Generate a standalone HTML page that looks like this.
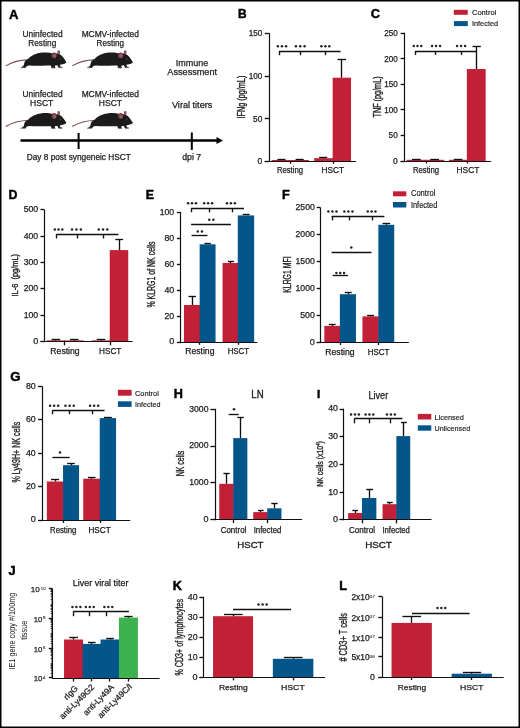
<!DOCTYPE html>
<html><head><meta charset="utf-8"><style>
html,body{margin:0;padding:0;background:#fff;}
svg{display:block;will-change:transform;}
text{font-family:"Liberation Sans",sans-serif;fill:#1c1c1c;stroke:#1c1c1c;stroke-width:0.25px;}
</style></head><body>
<svg width="520" height="728" viewBox="0 0 520 728">
<rect x="0.75" y="0.75" width="518.5" height="726.5" fill="#fff" stroke="#000" stroke-width="1.5"/>
<text x="9.00" y="18.50" font-size="13.08" font-weight="bold" style="fill:#000;stroke:#000;stroke-width:0.45px">A</text>
<g transform="translate(0.00,0.00)"><path d="M28,59.9 C21,59.9 13,61.6 5.8,65.9" stroke="#7a4646" stroke-width="1.1" fill="none"/><path d="M27.4,59.6 C31,55.5 36,53.1 42,52.6 C46.5,52.3 50.5,52.9 53.5,53.6 L57,53.6 C59,53.9 60.5,54.6 61.8,55.8 C63.5,57.5 65,59.8 66.4,62.2 C65.6,63.3 64.6,63.7 63.5,64 C62.2,64.3 60.8,64.6 59.8,64.8 L60.4,66.6 L62.4,67.2 L62.2,67.9 L58.6,67.8 L57.4,65.3 L55.2,65.5 L54.8,66.8 L55.6,67.6 L54.8,68.2 L51.4,68 L51,65.6 C45,65.8 36,65.8 30,65.4 C28.5,65.3 27.3,65.6 26.6,66.2 L25.4,67.9 L20.4,67.7 L22.6,66.6 C23.6,65.8 24.1,64.8 24.2,63.6 C24.3,62 25.4,60.6 27.4,59.6 Z" fill="#1b1b1b"/><ellipse cx="54.1" cy="55.4" rx="2.6" ry="2.9" fill="#6e3a3f"/><ellipse cx="54.5" cy="55.8" rx="1.7" ry="2.0" fill="#955a60"/><ellipse cx="58.7" cy="52.3" rx="1.3" ry="2.0" fill="#6e3a3f"/><ellipse cx="58.8" cy="52.5" rx="0.7" ry="1.4" fill="#9a5e64"/><circle cx="60.3" cy="58.9" r="0.9" fill="#3a3a3a"/><path d="M20.6,67.7 L25,67.7 M51.6,67.9 L54.6,67.9 M59.2,67.6 L62.2,67.6" stroke="#9c6c6c" stroke-width="0.7"/></g>
<g transform="translate(66.50,0.00)"><path d="M28,59.9 C21,59.9 13,61.6 5.8,65.9" stroke="#7a4646" stroke-width="1.1" fill="none"/><path d="M27.4,59.6 C31,55.5 36,53.1 42,52.6 C46.5,52.3 50.5,52.9 53.5,53.6 L57,53.6 C59,53.9 60.5,54.6 61.8,55.8 C63.5,57.5 65,59.8 66.4,62.2 C65.6,63.3 64.6,63.7 63.5,64 C62.2,64.3 60.8,64.6 59.8,64.8 L60.4,66.6 L62.4,67.2 L62.2,67.9 L58.6,67.8 L57.4,65.3 L55.2,65.5 L54.8,66.8 L55.6,67.6 L54.8,68.2 L51.4,68 L51,65.6 C45,65.8 36,65.8 30,65.4 C28.5,65.3 27.3,65.6 26.6,66.2 L25.4,67.9 L20.4,67.7 L22.6,66.6 C23.6,65.8 24.1,64.8 24.2,63.6 C24.3,62 25.4,60.6 27.4,59.6 Z" fill="#1b1b1b"/><ellipse cx="54.1" cy="55.4" rx="2.6" ry="2.9" fill="#6e3a3f"/><ellipse cx="54.5" cy="55.8" rx="1.7" ry="2.0" fill="#955a60"/><ellipse cx="58.7" cy="52.3" rx="1.3" ry="2.0" fill="#6e3a3f"/><ellipse cx="58.8" cy="52.5" rx="0.7" ry="1.4" fill="#9a5e64"/><circle cx="60.3" cy="58.9" r="0.9" fill="#3a3a3a"/><path d="M20.6,67.7 L25,67.7 M51.6,67.9 L54.6,67.9 M59.2,67.6 L62.2,67.6" stroke="#9c6c6c" stroke-width="0.7"/></g>
<g transform="translate(0.00,60.60)"><path d="M28,59.9 C21,59.9 13,61.6 5.8,65.9" stroke="#7a4646" stroke-width="1.1" fill="none"/><path d="M27.4,59.6 C31,55.5 36,53.1 42,52.6 C46.5,52.3 50.5,52.9 53.5,53.6 L57,53.6 C59,53.9 60.5,54.6 61.8,55.8 C63.5,57.5 65,59.8 66.4,62.2 C65.6,63.3 64.6,63.7 63.5,64 C62.2,64.3 60.8,64.6 59.8,64.8 L60.4,66.6 L62.4,67.2 L62.2,67.9 L58.6,67.8 L57.4,65.3 L55.2,65.5 L54.8,66.8 L55.6,67.6 L54.8,68.2 L51.4,68 L51,65.6 C45,65.8 36,65.8 30,65.4 C28.5,65.3 27.3,65.6 26.6,66.2 L25.4,67.9 L20.4,67.7 L22.6,66.6 C23.6,65.8 24.1,64.8 24.2,63.6 C24.3,62 25.4,60.6 27.4,59.6 Z" fill="#1b1b1b"/><ellipse cx="54.1" cy="55.4" rx="2.6" ry="2.9" fill="#6e3a3f"/><ellipse cx="54.5" cy="55.8" rx="1.7" ry="2.0" fill="#955a60"/><ellipse cx="58.7" cy="52.3" rx="1.3" ry="2.0" fill="#6e3a3f"/><ellipse cx="58.8" cy="52.5" rx="0.7" ry="1.4" fill="#9a5e64"/><circle cx="60.3" cy="58.9" r="0.9" fill="#3a3a3a"/><path d="M20.6,67.7 L25,67.7 M51.6,67.9 L54.6,67.9 M59.2,67.6 L62.2,67.6" stroke="#9c6c6c" stroke-width="0.7"/></g>
<g transform="translate(66.50,60.60)"><path d="M28,59.9 C21,59.9 13,61.6 5.8,65.9" stroke="#7a4646" stroke-width="1.1" fill="none"/><path d="M27.4,59.6 C31,55.5 36,53.1 42,52.6 C46.5,52.3 50.5,52.9 53.5,53.6 L57,53.6 C59,53.9 60.5,54.6 61.8,55.8 C63.5,57.5 65,59.8 66.4,62.2 C65.6,63.3 64.6,63.7 63.5,64 C62.2,64.3 60.8,64.6 59.8,64.8 L60.4,66.6 L62.4,67.2 L62.2,67.9 L58.6,67.8 L57.4,65.3 L55.2,65.5 L54.8,66.8 L55.6,67.6 L54.8,68.2 L51.4,68 L51,65.6 C45,65.8 36,65.8 30,65.4 C28.5,65.3 27.3,65.6 26.6,66.2 L25.4,67.9 L20.4,67.7 L22.6,66.6 C23.6,65.8 24.1,64.8 24.2,63.6 C24.3,62 25.4,60.6 27.4,59.6 Z" fill="#1b1b1b"/><ellipse cx="54.1" cy="55.4" rx="2.6" ry="2.9" fill="#6e3a3f"/><ellipse cx="54.5" cy="55.8" rx="1.7" ry="2.0" fill="#955a60"/><ellipse cx="58.7" cy="52.3" rx="1.3" ry="2.0" fill="#6e3a3f"/><ellipse cx="58.8" cy="52.5" rx="0.7" ry="1.4" fill="#9a5e64"/><circle cx="60.3" cy="58.9" r="0.9" fill="#3a3a3a"/><path d="M20.6,67.7 L25,67.7 M51.6,67.9 L54.6,67.9 M59.2,67.6 L62.2,67.6" stroke="#9c6c6c" stroke-width="0.7"/></g>
<text x="22.55" y="36.80" font-size="9" textLength="40.00" lengthAdjust="spacingAndGlyphs">Uninfected</text>
<text x="28.35" y="46.30" font-size="9" textLength="27.90" lengthAdjust="spacingAndGlyphs">Resting</text>
<text x="81.65" y="36.80" font-size="9" textLength="57.20" lengthAdjust="spacingAndGlyphs">MCMV-infected</text>
<text x="96.55" y="46.30" font-size="9" textLength="27.60" lengthAdjust="spacingAndGlyphs">Resting</text>
<text x="22.55" y="97.00" font-size="9" textLength="40.00" lengthAdjust="spacingAndGlyphs">Uninfected</text>
<text x="30.05" y="106.10" font-size="9" textLength="23.30" lengthAdjust="spacingAndGlyphs">HSCT</text>
<text x="81.65" y="97.00" font-size="9" textLength="57.20" lengthAdjust="spacingAndGlyphs">MCMV-infected</text>
<text x="98.85" y="106.10" font-size="9" textLength="23.10" lengthAdjust="spacingAndGlyphs">HSCT</text>
<text x="175.75" y="65.90" font-size="9.6" textLength="32.40" lengthAdjust="spacingAndGlyphs">Immune</text>
<text x="167.35" y="74.80" font-size="9.6" textLength="49.70" lengthAdjust="spacingAndGlyphs">Assessment</text>
<text x="171.95" y="107.50" font-size="9.6" textLength="40.40" lengthAdjust="spacingAndGlyphs">Viral titers</text>
<line x1="20.50" y1="140.50" x2="218.00" y2="140.50" stroke="#000" stroke-width="2.5"/>
<path d="M216.5,136.9 L223,140.5 L216.5,144.1 Z" fill="#000"/>
<line x1="78.60" y1="133.00" x2="78.60" y2="149.00" stroke="#000" stroke-width="2.0"/>
<line x1="191.80" y1="132.50" x2="191.80" y2="149.90" stroke="#000" stroke-width="2.0"/>
<text x="26.65" y="160.00" font-size="8.6" textLength="104.30" lengthAdjust="spacingAndGlyphs">Day 8 post syngeneic HSCT</text>
<text x="182.15" y="159.60" font-size="8.6" textLength="19.10" lengthAdjust="spacingAndGlyphs">dpi 7</text>
<text x="237.90" y="17.90" font-size="11.92" font-weight="bold" style="fill:#000;stroke:#000;stroke-width:0.45px">B</text>
<line x1="269.50" y1="33.20" x2="269.50" y2="161.80" stroke="#111" stroke-width="1.2"/>
<line x1="264.70" y1="161.50" x2="269.30" y2="161.50" stroke="#111" stroke-width="1.35"/>
<text x="257.55" y="164.07" font-size="8.2" textLength="4.75" lengthAdjust="spacingAndGlyphs">0</text>
<line x1="264.70" y1="118.50" x2="269.30" y2="118.50" stroke="#111" stroke-width="1.35"/>
<text x="253.10" y="121.50" font-size="8.2" textLength="9.20" lengthAdjust="spacingAndGlyphs">50</text>
<line x1="264.70" y1="76.50" x2="269.30" y2="76.50" stroke="#111" stroke-width="1.35"/>
<text x="248.65" y="78.94" font-size="8.2" textLength="13.65" lengthAdjust="spacingAndGlyphs">100</text>
<line x1="264.70" y1="33.50" x2="269.30" y2="33.50" stroke="#111" stroke-width="1.35"/>
<text x="248.65" y="36.37" font-size="8.2" textLength="13.65" lengthAdjust="spacingAndGlyphs">150</text>
<text transform="translate(244.80,118.50) rotate(-90)" font-size="10.3" style="stroke-width:0.35px" textLength="42.80" lengthAdjust="spacingAndGlyphs">IFNg (pg/mL)</text>
<rect x="271.75" y="160.00" width="18.10" height="1.20" fill="#C22036"/>
<rect x="289.35" y="160.00" width="19.50" height="1.20" fill="#C22036"/>
<rect x="314.15" y="158.20" width="19.00" height="3.00" fill="#C22036"/>
<rect x="332.65" y="77.70" width="18.40" height="83.50" fill="#C22036"/>
<line x1="280.50" y1="160.00" x2="280.50" y2="159.00" stroke="#111" stroke-width="1.35"/>
<line x1="277.40" y1="159.50" x2="285.50" y2="159.50" stroke="#111" stroke-width="1.35"/>
<line x1="299.50" y1="160.00" x2="299.50" y2="159.00" stroke="#111" stroke-width="1.35"/>
<line x1="295.60" y1="159.50" x2="303.70" y2="159.50" stroke="#111" stroke-width="1.35"/>
<line x1="323.50" y1="158.20" x2="323.50" y2="157.40" stroke="#111" stroke-width="1.35"/>
<line x1="319.10" y1="157.50" x2="327.20" y2="157.50" stroke="#111" stroke-width="1.35"/>
<line x1="341.50" y1="77.70" x2="341.50" y2="59.60" stroke="#111" stroke-width="1.35"/>
<line x1="337.50" y1="59.50" x2="346.10" y2="59.50" stroke="#111" stroke-width="1.35"/>
<line x1="264.70" y1="161.50" x2="356.20" y2="161.50" stroke="#111" stroke-width="1.2"/>
<line x1="290.50" y1="161.20" x2="290.50" y2="163.80" stroke="#111" stroke-width="1.35"/>
<line x1="333.50" y1="161.20" x2="333.50" y2="163.80" stroke="#111" stroke-width="1.35"/>
<text x="276.95" y="172.60" font-size="8.2" textLength="26.10" lengthAdjust="spacingAndGlyphs">Resting</text>
<text x="321.55" y="172.60" font-size="8.2" textLength="22.50" lengthAdjust="spacingAndGlyphs">HSCT</text>
<line x1="279.00" y1="51.50" x2="340.60" y2="51.50" stroke="#111" stroke-width="1.35"/>
<line x1="279.50" y1="51.30" x2="279.50" y2="55.20" stroke="#111" stroke-width="1.35"/>
<line x1="300.50" y1="51.30" x2="300.50" y2="55.20" stroke="#111" stroke-width="1.35"/>
<line x1="325.50" y1="51.30" x2="325.50" y2="55.20" stroke="#111" stroke-width="1.35"/>
<circle cx="277.85" cy="46.30" r="1.25" fill="#222"/>
<circle cx="281.95" cy="46.30" r="1.25" fill="#222"/>
<circle cx="286.05" cy="46.30" r="1.25" fill="#222"/>
<circle cx="295.95" cy="46.30" r="1.25" fill="#222"/>
<circle cx="300.25" cy="46.30" r="1.25" fill="#222"/>
<circle cx="304.55" cy="46.30" r="1.25" fill="#222"/>
<circle cx="321.45" cy="46.30" r="1.25" fill="#222"/>
<circle cx="325.40" cy="46.30" r="1.25" fill="#222"/>
<circle cx="329.35" cy="46.30" r="1.25" fill="#222"/>
<text x="370.70" y="17.80" font-size="12.79" font-weight="bold" style="fill:#000;stroke:#000;stroke-width:0.45px">C</text>
<rect x="453.80" y="9.80" width="13.90" height="5.00" fill="#C22036"/>
<rect x="453.90" y="21.10" width="13.90" height="5.00" fill="#04568A"/>
<text style="stroke-width:0.18px" x="471.95" y="15.40" font-size="8.1" textLength="24.40" lengthAdjust="spacingAndGlyphs">Control</text>
<text style="stroke-width:0.18px" x="471.95" y="26.30" font-size="8.1" textLength="26.20" lengthAdjust="spacingAndGlyphs">Infected</text>
<line x1="404.50" y1="32.70" x2="404.50" y2="161.80" stroke="#111" stroke-width="1.2"/>
<line x1="400.60" y1="161.50" x2="404.90" y2="161.50" stroke="#111" stroke-width="1.35"/>
<text x="393.00" y="164.07" font-size="8.2" textLength="4.70" lengthAdjust="spacingAndGlyphs">0</text>
<line x1="400.60" y1="135.50" x2="404.90" y2="135.50" stroke="#111" stroke-width="1.35"/>
<text x="388.60" y="138.43" font-size="8.2" textLength="9.10" lengthAdjust="spacingAndGlyphs">50</text>
<line x1="400.60" y1="109.50" x2="404.90" y2="109.50" stroke="#111" stroke-width="1.35"/>
<text x="384.20" y="112.79" font-size="8.2" textLength="13.50" lengthAdjust="spacingAndGlyphs">100</text>
<line x1="400.60" y1="84.50" x2="404.90" y2="84.50" stroke="#111" stroke-width="1.35"/>
<text x="384.20" y="87.15" font-size="8.2" textLength="13.50" lengthAdjust="spacingAndGlyphs">150</text>
<line x1="400.60" y1="58.50" x2="404.90" y2="58.50" stroke="#111" stroke-width="1.35"/>
<text x="384.20" y="61.51" font-size="8.2" textLength="13.50" lengthAdjust="spacingAndGlyphs">200</text>
<line x1="400.60" y1="33.50" x2="404.90" y2="33.50" stroke="#111" stroke-width="1.35"/>
<text x="384.20" y="35.87" font-size="8.2" textLength="13.50" lengthAdjust="spacingAndGlyphs">250</text>
<text transform="translate(381.00,117.50) rotate(-90)" font-size="10.0" style="stroke-width:0.35px" textLength="41.10" lengthAdjust="spacingAndGlyphs">TNF (pg/mL)</text>
<rect x="406.65" y="159.80" width="19.40" height="1.40" fill="#C22036"/>
<rect x="425.55" y="159.80" width="18.70" height="1.40" fill="#C22036"/>
<rect x="448.95" y="159.80" width="18.40" height="1.40" fill="#C22036"/>
<rect x="466.85" y="69.00" width="18.80" height="92.20" fill="#C22036"/>
<line x1="412.00" y1="159.50" x2="420.70" y2="159.50" stroke="#111" stroke-width="1.35"/>
<line x1="430.30" y1="159.50" x2="439.00" y2="159.50" stroke="#111" stroke-width="1.35"/>
<line x1="453.80" y1="159.50" x2="462.40" y2="159.50" stroke="#111" stroke-width="1.35"/>
<line x1="476.50" y1="69.00" x2="476.50" y2="46.90" stroke="#111" stroke-width="1.35"/>
<line x1="472.50" y1="46.50" x2="480.80" y2="46.50" stroke="#111" stroke-width="1.35"/>
<line x1="400.60" y1="161.50" x2="491.20" y2="161.50" stroke="#111" stroke-width="1.2"/>
<line x1="426.50" y1="161.20" x2="426.50" y2="163.50" stroke="#111" stroke-width="1.35"/>
<line x1="467.50" y1="161.20" x2="467.50" y2="163.50" stroke="#111" stroke-width="1.35"/>
<text x="412.95" y="172.60" font-size="8.2" textLength="26.20" lengthAdjust="spacingAndGlyphs">Resting</text>
<text x="456.55" y="172.60" font-size="8.2" textLength="22.80" lengthAdjust="spacingAndGlyphs">HSCT</text>
<line x1="414.90" y1="51.50" x2="476.50" y2="51.50" stroke="#111" stroke-width="1.35"/>
<line x1="415.50" y1="51.20" x2="415.50" y2="55.00" stroke="#111" stroke-width="1.35"/>
<line x1="435.50" y1="51.20" x2="435.50" y2="55.00" stroke="#111" stroke-width="1.35"/>
<line x1="461.50" y1="51.20" x2="461.50" y2="55.00" stroke="#111" stroke-width="1.35"/>
<circle cx="413.75" cy="46.10" r="1.25" fill="#222"/>
<circle cx="417.50" cy="46.10" r="1.25" fill="#222"/>
<circle cx="421.25" cy="46.10" r="1.25" fill="#222"/>
<circle cx="432.05" cy="46.10" r="1.25" fill="#222"/>
<circle cx="436.05" cy="46.10" r="1.25" fill="#222"/>
<circle cx="440.05" cy="46.10" r="1.25" fill="#222"/>
<circle cx="457.05" cy="46.10" r="1.25" fill="#222"/>
<circle cx="461.05" cy="46.10" r="1.25" fill="#222"/>
<circle cx="465.05" cy="46.10" r="1.25" fill="#222"/>
<text x="8.40" y="199.30" font-size="12.35" font-weight="bold" style="fill:#000;stroke:#000;stroke-width:0.45px">D</text>
<line x1="44.50" y1="209.60" x2="44.50" y2="342.30" stroke="#111" stroke-width="1.2"/>
<line x1="40.50" y1="341.50" x2="44.20" y2="341.50" stroke="#111" stroke-width="1.35"/>
<text x="33.15" y="344.18" font-size="8.8" textLength="5.05" lengthAdjust="spacingAndGlyphs">0</text>
<line x1="40.50" y1="315.50" x2="44.20" y2="315.50" stroke="#111" stroke-width="1.35"/>
<text x="23.65" y="317.82" font-size="8.8" textLength="14.55" lengthAdjust="spacingAndGlyphs">100</text>
<line x1="40.50" y1="288.50" x2="44.20" y2="288.50" stroke="#111" stroke-width="1.35"/>
<text x="23.65" y="291.46" font-size="8.8" textLength="14.55" lengthAdjust="spacingAndGlyphs">200</text>
<line x1="40.50" y1="262.50" x2="44.20" y2="262.50" stroke="#111" stroke-width="1.35"/>
<text x="23.65" y="265.10" font-size="8.8" textLength="14.55" lengthAdjust="spacingAndGlyphs">300</text>
<line x1="40.50" y1="236.50" x2="44.20" y2="236.50" stroke="#111" stroke-width="1.35"/>
<text x="23.65" y="238.74" font-size="8.8" textLength="14.55" lengthAdjust="spacingAndGlyphs">400</text>
<line x1="40.50" y1="209.50" x2="44.20" y2="209.50" stroke="#111" stroke-width="1.35"/>
<text x="23.65" y="212.38" font-size="8.8" textLength="14.55" lengthAdjust="spacingAndGlyphs">500</text>
<text transform="translate(18.20,296.50) rotate(-90)" font-size="9.4" style="stroke-width:0.35px" textLength="42.50" lengthAdjust="spacingAndGlyphs">IL-6&#160;&#160;(pg/mL)</text>
<rect x="46.65" y="340.40" width="18.50" height="1.30" fill="#C22036"/>
<rect x="64.65" y="340.40" width="19.10" height="1.30" fill="#C22036"/>
<rect x="91.75" y="340.40" width="18.50" height="1.30" fill="#C22036"/>
<rect x="109.75" y="250.10" width="18.50" height="91.60" fill="#C22036"/>
<line x1="55.50" y1="340.40" x2="55.50" y2="339.60" stroke="#111" stroke-width="1.35"/>
<line x1="51.60" y1="339.50" x2="60.20" y2="339.50" stroke="#111" stroke-width="1.35"/>
<line x1="74.50" y1="340.40" x2="74.50" y2="339.60" stroke="#111" stroke-width="1.35"/>
<line x1="69.90" y1="339.50" x2="78.50" y2="339.50" stroke="#111" stroke-width="1.35"/>
<line x1="101.50" y1="340.40" x2="101.50" y2="339.60" stroke="#111" stroke-width="1.35"/>
<line x1="96.70" y1="339.50" x2="105.30" y2="339.50" stroke="#111" stroke-width="1.35"/>
<line x1="119.50" y1="250.10" x2="119.50" y2="239.50" stroke="#111" stroke-width="1.35"/>
<line x1="115.30" y1="239.50" x2="123.10" y2="239.50" stroke="#111" stroke-width="1.35"/>
<line x1="40.50" y1="341.50" x2="132.60" y2="341.50" stroke="#111" stroke-width="1.2"/>
<line x1="64.50" y1="341.70" x2="64.50" y2="345.30" stroke="#111" stroke-width="1.35"/>
<line x1="110.50" y1="341.70" x2="110.50" y2="345.30" stroke="#111" stroke-width="1.35"/>
<text x="50.35" y="354.10" font-size="8.2" textLength="29.30" lengthAdjust="spacingAndGlyphs">Resting</text>
<text x="99.05" y="354.10" font-size="8.2" textLength="22.30" lengthAdjust="spacingAndGlyphs">HSCT</text>
<line x1="56.40" y1="234.50" x2="118.40" y2="234.50" stroke="#111" stroke-width="1.35"/>
<line x1="56.50" y1="234.30" x2="56.50" y2="238.50" stroke="#111" stroke-width="1.35"/>
<line x1="77.50" y1="234.30" x2="77.50" y2="238.50" stroke="#111" stroke-width="1.35"/>
<line x1="103.50" y1="234.30" x2="103.50" y2="238.50" stroke="#111" stroke-width="1.35"/>
<circle cx="54.85" cy="229.60" r="1.25" fill="#222"/>
<circle cx="58.55" cy="229.60" r="1.25" fill="#222"/>
<circle cx="62.25" cy="229.60" r="1.25" fill="#222"/>
<circle cx="72.05" cy="229.60" r="1.25" fill="#222"/>
<circle cx="76.45" cy="229.60" r="1.25" fill="#222"/>
<circle cx="80.85" cy="229.60" r="1.25" fill="#222"/>
<circle cx="98.75" cy="229.60" r="1.25" fill="#222"/>
<circle cx="103.00" cy="229.60" r="1.25" fill="#222"/>
<circle cx="107.25" cy="229.60" r="1.25" fill="#222"/>
<text x="145.80" y="199.30" font-size="12.35" font-weight="bold" style="fill:#000;stroke:#000;stroke-width:0.45px">E</text>
<line x1="180.50" y1="212.00" x2="180.50" y2="342.60" stroke="#111" stroke-width="1.2"/>
<line x1="176.90" y1="342.50" x2="180.70" y2="342.50" stroke="#111" stroke-width="1.35"/>
<text x="169.15" y="344.48" font-size="8.8" textLength="5.05" lengthAdjust="spacingAndGlyphs">0</text>
<line x1="176.90" y1="316.50" x2="180.70" y2="316.50" stroke="#111" stroke-width="1.35"/>
<text x="164.40" y="318.54" font-size="8.8" textLength="9.80" lengthAdjust="spacingAndGlyphs">20</text>
<line x1="176.90" y1="290.50" x2="180.70" y2="290.50" stroke="#111" stroke-width="1.35"/>
<text x="164.40" y="292.60" font-size="8.8" textLength="9.80" lengthAdjust="spacingAndGlyphs">40</text>
<line x1="176.90" y1="264.50" x2="180.70" y2="264.50" stroke="#111" stroke-width="1.35"/>
<text x="164.40" y="266.66" font-size="8.8" textLength="9.80" lengthAdjust="spacingAndGlyphs">60</text>
<line x1="176.90" y1="238.50" x2="180.70" y2="238.50" stroke="#111" stroke-width="1.35"/>
<text x="164.40" y="240.72" font-size="8.8" textLength="9.80" lengthAdjust="spacingAndGlyphs">80</text>
<line x1="176.90" y1="212.50" x2="180.70" y2="212.50" stroke="#111" stroke-width="1.35"/>
<text x="159.65" y="214.78" font-size="8.8" textLength="14.55" lengthAdjust="spacingAndGlyphs">100</text>
<text transform="translate(155.30,307.60) rotate(-90)" font-size="10.0" style="stroke-width:0.35px" textLength="66.20" lengthAdjust="spacingAndGlyphs">% KLRG1 of NK cells</text>
<rect x="183.95" y="305.00" width="16.20" height="37.00" fill="#C22036"/>
<rect x="199.65" y="244.30" width="15.90" height="97.70" fill="#04568A"/>
<rect x="222.55" y="263.00" width="15.70" height="79.00" fill="#C22036"/>
<rect x="237.75" y="215.40" width="16.40" height="126.60" fill="#04568A"/>
<line x1="192.50" y1="305.00" x2="192.50" y2="296.70" stroke="#111" stroke-width="1.35"/>
<line x1="188.50" y1="296.50" x2="196.00" y2="296.50" stroke="#111" stroke-width="1.35"/>
<line x1="204.50" y1="243.50" x2="210.80" y2="243.50" stroke="#111" stroke-width="1.35"/>
<line x1="230.50" y1="263.00" x2="230.50" y2="261.60" stroke="#111" stroke-width="1.35"/>
<line x1="227.80" y1="261.50" x2="234.00" y2="261.50" stroke="#111" stroke-width="1.35"/>
<line x1="242.70" y1="214.50" x2="249.60" y2="214.50" stroke="#111" stroke-width="1.35"/>
<line x1="176.90" y1="342.50" x2="257.40" y2="342.50" stroke="#111" stroke-width="1.2"/>
<line x1="199.50" y1="342.00" x2="199.50" y2="344.80" stroke="#111" stroke-width="1.35"/>
<line x1="238.50" y1="342.00" x2="238.50" y2="344.80" stroke="#111" stroke-width="1.35"/>
<text x="185.25" y="354.10" font-size="8.2" textLength="29.20" lengthAdjust="spacingAndGlyphs">Resting</text>
<text x="227.65" y="354.10" font-size="8.2" textLength="21.40" lengthAdjust="spacingAndGlyphs">HSCT</text>
<line x1="191.10" y1="208.50" x2="244.00" y2="208.50" stroke="#111" stroke-width="1.35"/>
<line x1="191.50" y1="208.30" x2="191.50" y2="212.30" stroke="#111" stroke-width="1.35"/>
<line x1="209.50" y1="208.30" x2="209.50" y2="212.30" stroke="#111" stroke-width="1.35"/>
<line x1="232.50" y1="208.30" x2="232.50" y2="212.30" stroke="#111" stroke-width="1.35"/>
<circle cx="188.05" cy="203.20" r="1.25" fill="#222"/>
<circle cx="192.00" cy="203.20" r="1.25" fill="#222"/>
<circle cx="195.95" cy="203.20" r="1.25" fill="#222"/>
<circle cx="204.15" cy="203.20" r="1.25" fill="#222"/>
<circle cx="208.10" cy="203.20" r="1.25" fill="#222"/>
<circle cx="212.05" cy="203.20" r="1.25" fill="#222"/>
<circle cx="226.95" cy="203.20" r="1.25" fill="#222"/>
<circle cx="230.90" cy="203.20" r="1.25" fill="#222"/>
<circle cx="234.85" cy="203.20" r="1.25" fill="#222"/>
<line x1="191.10" y1="224.50" x2="230.90" y2="224.50" stroke="#111" stroke-width="1.35"/>
<circle cx="209.25" cy="219.70" r="1.25" fill="#222"/>
<circle cx="213.35" cy="219.70" r="1.25" fill="#222"/>
<line x1="191.60" y1="235.50" x2="207.50" y2="235.50" stroke="#111" stroke-width="1.35"/>
<circle cx="197.75" cy="231.40" r="1.25" fill="#222"/>
<circle cx="201.95" cy="231.40" r="1.25" fill="#222"/>
<text x="282.00" y="199.20" font-size="12.65" font-weight="bold" style="fill:#000;stroke:#000;stroke-width:0.45px">F</text>
<rect x="393.00" y="191.30" width="13.30" height="5.00" fill="#C22036"/>
<rect x="393.00" y="202.00" width="13.30" height="5.50" fill="#04568A"/>
<text style="stroke-width:0.18px" x="410.95" y="196.40" font-size="8.3" textLength="24.40" lengthAdjust="spacingAndGlyphs">Control</text>
<text style="stroke-width:0.18px" x="410.95" y="207.50" font-size="8.3" textLength="26.40" lengthAdjust="spacingAndGlyphs">Infected</text>
<line x1="320.50" y1="207.60" x2="320.50" y2="342.80" stroke="#111" stroke-width="1.2"/>
<line x1="316.70" y1="342.50" x2="320.50" y2="342.50" stroke="#111" stroke-width="1.35"/>
<text x="309.75" y="344.68" font-size="8.8" textLength="5.05" lengthAdjust="spacingAndGlyphs">0</text>
<line x1="316.70" y1="315.50" x2="320.50" y2="315.50" stroke="#111" stroke-width="1.35"/>
<text x="300.25" y="317.82" font-size="8.8" textLength="14.55" lengthAdjust="spacingAndGlyphs">500</text>
<line x1="316.70" y1="288.50" x2="320.50" y2="288.50" stroke="#111" stroke-width="1.35"/>
<text x="295.50" y="290.96" font-size="8.8" textLength="19.30" lengthAdjust="spacingAndGlyphs">1000</text>
<line x1="316.70" y1="261.50" x2="320.50" y2="261.50" stroke="#111" stroke-width="1.35"/>
<text x="295.50" y="264.10" font-size="8.8" textLength="19.30" lengthAdjust="spacingAndGlyphs">1500</text>
<line x1="316.70" y1="234.50" x2="320.50" y2="234.50" stroke="#111" stroke-width="1.35"/>
<text x="295.50" y="237.24" font-size="8.8" textLength="19.30" lengthAdjust="spacingAndGlyphs">2000</text>
<line x1="316.70" y1="207.50" x2="320.50" y2="207.50" stroke="#111" stroke-width="1.35"/>
<text x="295.50" y="210.38" font-size="8.8" textLength="19.30" lengthAdjust="spacingAndGlyphs">2500</text>
<text transform="translate(290.90,292.80) rotate(-90)" font-size="10.4" style="stroke-width:0.35px" textLength="36.40" lengthAdjust="spacingAndGlyphs">KLRG1 MFI</text>
<rect x="324.35" y="325.90" width="16.00" height="16.30" fill="#C22036"/>
<rect x="339.85" y="294.20" width="16.10" height="48.00" fill="#04568A"/>
<rect x="362.45" y="316.40" width="16.40" height="25.80" fill="#C22036"/>
<rect x="378.35" y="224.80" width="15.90" height="117.40" fill="#04568A"/>
<line x1="332.50" y1="325.90" x2="332.50" y2="324.40" stroke="#111" stroke-width="1.35"/>
<line x1="328.80" y1="324.50" x2="335.60" y2="324.50" stroke="#111" stroke-width="1.35"/>
<line x1="348.50" y1="294.20" x2="348.50" y2="292.90" stroke="#111" stroke-width="1.35"/>
<line x1="344.70" y1="292.50" x2="351.70" y2="292.50" stroke="#111" stroke-width="1.35"/>
<line x1="370.50" y1="316.40" x2="370.50" y2="315.50" stroke="#111" stroke-width="1.35"/>
<line x1="367.10" y1="315.50" x2="374.10" y2="315.50" stroke="#111" stroke-width="1.35"/>
<line x1="386.50" y1="224.80" x2="386.50" y2="223.70" stroke="#111" stroke-width="1.35"/>
<line x1="382.50" y1="223.50" x2="390.20" y2="223.50" stroke="#111" stroke-width="1.35"/>
<line x1="316.70" y1="342.50" x2="408.80" y2="342.50" stroke="#111" stroke-width="1.2"/>
<line x1="340.50" y1="342.20" x2="340.50" y2="345.00" stroke="#111" stroke-width="1.35"/>
<line x1="378.50" y1="342.20" x2="378.50" y2="345.00" stroke="#111" stroke-width="1.35"/>
<text x="325.35" y="354.50" font-size="8.2" textLength="29.20" lengthAdjust="spacingAndGlyphs">Resting</text>
<text x="367.65" y="354.50" font-size="8.2" textLength="21.80" lengthAdjust="spacingAndGlyphs">HSCT</text>
<line x1="331.60" y1="216.50" x2="384.40" y2="216.50" stroke="#111" stroke-width="1.35"/>
<line x1="332.50" y1="216.50" x2="332.50" y2="220.40" stroke="#111" stroke-width="1.35"/>
<line x1="349.50" y1="216.50" x2="349.50" y2="220.40" stroke="#111" stroke-width="1.35"/>
<line x1="372.50" y1="216.50" x2="372.50" y2="220.40" stroke="#111" stroke-width="1.35"/>
<circle cx="328.35" cy="211.40" r="1.25" fill="#222"/>
<circle cx="332.40" cy="211.40" r="1.25" fill="#222"/>
<circle cx="336.45" cy="211.40" r="1.25" fill="#222"/>
<circle cx="344.35" cy="211.40" r="1.25" fill="#222"/>
<circle cx="348.40" cy="211.40" r="1.25" fill="#222"/>
<circle cx="352.45" cy="211.40" r="1.25" fill="#222"/>
<circle cx="367.75" cy="211.40" r="1.25" fill="#222"/>
<circle cx="371.60" cy="211.40" r="1.25" fill="#222"/>
<circle cx="375.45" cy="211.40" r="1.25" fill="#222"/>
<line x1="331.60" y1="252.50" x2="371.50" y2="252.50" stroke="#111" stroke-width="1.35"/>
<circle cx="351.30" cy="247.40" r="1.25" fill="#222"/>
<line x1="332.70" y1="275.50" x2="347.90" y2="275.50" stroke="#111" stroke-width="1.35"/>
<circle cx="336.45" cy="272.90" r="1.25" fill="#222"/>
<circle cx="340.25" cy="272.90" r="1.25" fill="#222"/>
<circle cx="344.05" cy="272.90" r="1.25" fill="#222"/>
<text x="10.20" y="380.50" font-size="13.23" font-weight="bold" style="fill:#000;stroke:#000;stroke-width:0.45px">G</text>
<rect x="117.90" y="389.80" width="13.70" height="5.90" fill="#C22036"/>
<rect x="117.90" y="401.30" width="13.70" height="5.60" fill="#04568A"/>
<text style="stroke-width:0.18px" x="134.95" y="395.90" font-size="8.1" textLength="23.90" lengthAdjust="spacingAndGlyphs">Control</text>
<text style="stroke-width:0.18px" x="134.95" y="407.10" font-size="8.1" textLength="25.60" lengthAdjust="spacingAndGlyphs">Infected</text>
<line x1="42.50" y1="386.30" x2="42.50" y2="520.60" stroke="#111" stroke-width="1.2"/>
<line x1="38.10" y1="520.50" x2="42.20" y2="520.50" stroke="#111" stroke-width="1.35"/>
<text x="30.65" y="522.48" font-size="8.8" textLength="5.05" lengthAdjust="spacingAndGlyphs">0</text>
<line x1="38.10" y1="486.50" x2="42.20" y2="486.50" stroke="#111" stroke-width="1.35"/>
<text x="25.90" y="489.13" font-size="8.8" textLength="9.80" lengthAdjust="spacingAndGlyphs">20</text>
<line x1="38.10" y1="453.50" x2="42.20" y2="453.50" stroke="#111" stroke-width="1.35"/>
<text x="25.90" y="455.78" font-size="8.8" textLength="9.80" lengthAdjust="spacingAndGlyphs">40</text>
<line x1="38.10" y1="419.50" x2="42.20" y2="419.50" stroke="#111" stroke-width="1.35"/>
<text x="25.90" y="422.43" font-size="8.8" textLength="9.80" lengthAdjust="spacingAndGlyphs">60</text>
<line x1="38.10" y1="386.50" x2="42.20" y2="386.50" stroke="#111" stroke-width="1.35"/>
<text x="25.90" y="389.08" font-size="8.8" textLength="9.80" lengthAdjust="spacingAndGlyphs">80</text>
<text transform="translate(19.60,482.50) rotate(-90)" font-size="10.0" style="stroke-width:0.35px" textLength="60.70" lengthAdjust="spacingAndGlyphs">% Ly49H+ NK cells</text>
<rect x="46.85" y="481.50" width="16.70" height="38.50" fill="#C22036"/>
<rect x="63.05" y="465.20" width="16.00" height="54.80" fill="#04568A"/>
<rect x="83.25" y="478.70" width="17.00" height="41.30" fill="#C22036"/>
<rect x="99.75" y="418.10" width="16.30" height="101.90" fill="#04568A"/>
<line x1="55.50" y1="481.50" x2="55.50" y2="479.20" stroke="#111" stroke-width="1.35"/>
<line x1="51.00" y1="479.50" x2="59.00" y2="479.50" stroke="#111" stroke-width="1.35"/>
<line x1="71.50" y1="465.20" x2="71.50" y2="463.30" stroke="#111" stroke-width="1.35"/>
<line x1="67.10" y1="463.50" x2="74.80" y2="463.50" stroke="#111" stroke-width="1.35"/>
<line x1="91.50" y1="478.70" x2="91.50" y2="477.70" stroke="#111" stroke-width="1.35"/>
<line x1="88.00" y1="477.50" x2="95.50" y2="477.50" stroke="#111" stroke-width="1.35"/>
<line x1="107.50" y1="418.10" x2="107.50" y2="417.50" stroke="#111" stroke-width="1.35"/>
<line x1="104.00" y1="417.50" x2="111.80" y2="417.50" stroke="#111" stroke-width="1.35"/>
<line x1="38.10" y1="520.50" x2="130.20" y2="520.50" stroke="#111" stroke-width="1.2"/>
<line x1="63.50" y1="520.00" x2="63.50" y2="522.90" stroke="#111" stroke-width="1.35"/>
<line x1="100.50" y1="520.00" x2="100.50" y2="522.90" stroke="#111" stroke-width="1.35"/>
<text x="50.05" y="533.10" font-size="8.2" textLength="26.30" lengthAdjust="spacingAndGlyphs">Resting</text>
<text x="88.45" y="533.10" font-size="8.2" textLength="22.30" lengthAdjust="spacingAndGlyphs">HSCT</text>
<line x1="52.40" y1="410.50" x2="104.60" y2="410.50" stroke="#111" stroke-width="1.35"/>
<line x1="52.50" y1="410.40" x2="52.50" y2="414.20" stroke="#111" stroke-width="1.35"/>
<line x1="69.50" y1="410.40" x2="69.50" y2="414.20" stroke="#111" stroke-width="1.35"/>
<line x1="92.50" y1="410.40" x2="92.50" y2="414.20" stroke="#111" stroke-width="1.35"/>
<circle cx="50.05" cy="405.70" r="1.25" fill="#222"/>
<circle cx="54.10" cy="405.70" r="1.25" fill="#222"/>
<circle cx="58.15" cy="405.70" r="1.25" fill="#222"/>
<circle cx="65.45" cy="405.70" r="1.25" fill="#222"/>
<circle cx="69.60" cy="405.70" r="1.25" fill="#222"/>
<circle cx="73.75" cy="405.70" r="1.25" fill="#222"/>
<circle cx="90.05" cy="405.70" r="1.25" fill="#222"/>
<circle cx="94.10" cy="405.70" r="1.25" fill="#222"/>
<circle cx="98.15" cy="405.70" r="1.25" fill="#222"/>
<line x1="52.40" y1="457.50" x2="69.60" y2="457.50" stroke="#111" stroke-width="1.35"/>
<circle cx="60.00" cy="452.40" r="1.25" fill="#222"/>
<text x="173.80" y="398.20" font-size="12.65" font-weight="bold" style="fill:#000;stroke:#000;stroke-width:0.45px">H</text>
<text style="stroke-width:0.35px" x="251.35" y="398.40" font-size="10.6" textLength="12.30" lengthAdjust="spacingAndGlyphs">LN</text>
<line x1="215.50" y1="408.90" x2="215.50" y2="520.20" stroke="#111" stroke-width="1.2"/>
<line x1="210.40" y1="519.50" x2="215.60" y2="519.50" stroke="#111" stroke-width="1.35"/>
<text x="203.45" y="522.08" font-size="8.8" textLength="5.05" lengthAdjust="spacingAndGlyphs">0</text>
<line x1="210.40" y1="482.50" x2="215.60" y2="482.50" stroke="#111" stroke-width="1.35"/>
<text x="189.20" y="485.28" font-size="8.8" textLength="19.30" lengthAdjust="spacingAndGlyphs">1000</text>
<line x1="210.40" y1="446.50" x2="215.60" y2="446.50" stroke="#111" stroke-width="1.35"/>
<text x="189.20" y="448.48" font-size="8.8" textLength="19.30" lengthAdjust="spacingAndGlyphs">2000</text>
<line x1="210.40" y1="409.50" x2="215.60" y2="409.50" stroke="#111" stroke-width="1.35"/>
<text x="189.20" y="411.68" font-size="8.8" textLength="19.30" lengthAdjust="spacingAndGlyphs">3000</text>
<text transform="translate(184.40,476.30) rotate(-90)" font-size="10.0" style="stroke-width:0.35px" textLength="25.60" lengthAdjust="spacingAndGlyphs">NK cells</text>
<rect x="219.25" y="483.80" width="14.50" height="35.80" fill="#C22036"/>
<rect x="233.25" y="438.10" width="14.10" height="81.50" fill="#04568A"/>
<rect x="253.25" y="512.10" width="14.50" height="7.50" fill="#C22036"/>
<rect x="267.25" y="508.30" width="14.20" height="11.30" fill="#04568A"/>
<line x1="226.50" y1="483.80" x2="226.50" y2="473.70" stroke="#111" stroke-width="1.35"/>
<line x1="223.40" y1="473.50" x2="229.70" y2="473.50" stroke="#111" stroke-width="1.35"/>
<line x1="240.50" y1="438.10" x2="240.50" y2="417.50" stroke="#111" stroke-width="1.35"/>
<line x1="237.30" y1="417.50" x2="243.70" y2="417.50" stroke="#111" stroke-width="1.35"/>
<line x1="260.50" y1="512.10" x2="260.50" y2="510.20" stroke="#111" stroke-width="1.35"/>
<line x1="257.90" y1="510.50" x2="263.70" y2="510.50" stroke="#111" stroke-width="1.35"/>
<line x1="274.50" y1="508.30" x2="274.50" y2="503.80" stroke="#111" stroke-width="1.35"/>
<line x1="271.30" y1="503.50" x2="277.70" y2="503.50" stroke="#111" stroke-width="1.35"/>
<line x1="210.80" y1="519.50" x2="302.10" y2="519.50" stroke="#111" stroke-width="1.2"/>
<line x1="233.50" y1="519.60" x2="233.50" y2="523.10" stroke="#111" stroke-width="1.35"/>
<line x1="267.50" y1="519.60" x2="267.50" y2="523.10" stroke="#111" stroke-width="1.35"/>
<text x="220.65" y="533.20" font-size="8.2" textLength="25.70" lengthAdjust="spacingAndGlyphs">Control</text>
<text x="253.65" y="533.20" font-size="8.2" textLength="27.70" lengthAdjust="spacingAndGlyphs">Infected</text>
<text style="stroke-width:0.35px" x="237.35" y="547.80" font-size="9.9" textLength="26.10" lengthAdjust="spacingAndGlyphs">HSCT</text>
<line x1="228.70" y1="414.50" x2="238.70" y2="414.50" stroke="#111" stroke-width="1.35"/>
<circle cx="234.00" cy="409.30" r="1.25" fill="#222"/>
<text x="317.00" y="398.10" font-size="11.63" font-weight="bold" style="fill:#000;stroke:#000;stroke-width:0.45px">I</text>
<text style="stroke-width:0.25px" x="368.45" y="398.50" font-size="10.0" textLength="19.80" lengthAdjust="spacingAndGlyphs">Liver</text>
<rect x="417.80" y="413.90" width="13.50" height="5.60" fill="#C22036"/>
<rect x="417.80" y="425.30" width="13.50" height="5.40" fill="#04568A"/>
<text style="stroke-width:0.18px" x="434.55" y="419.90" font-size="8.1" textLength="29.40" lengthAdjust="spacingAndGlyphs">Licensed</text>
<text style="stroke-width:0.18px" x="434.55" y="430.90" font-size="8.1" textLength="35.70" lengthAdjust="spacingAndGlyphs">Unlicensed</text>
<line x1="343.50" y1="408.70" x2="343.50" y2="520.30" stroke="#111" stroke-width="1.2"/>
<line x1="339.60" y1="519.50" x2="343.20" y2="519.50" stroke="#111" stroke-width="1.35"/>
<text x="332.95" y="522.18" font-size="8.8" textLength="5.05" lengthAdjust="spacingAndGlyphs">0</text>
<line x1="339.60" y1="492.50" x2="343.20" y2="492.50" stroke="#111" stroke-width="1.35"/>
<text x="328.20" y="494.50" font-size="8.8" textLength="9.80" lengthAdjust="spacingAndGlyphs">10</text>
<line x1="339.60" y1="464.50" x2="343.20" y2="464.50" stroke="#111" stroke-width="1.35"/>
<text x="328.20" y="466.83" font-size="8.8" textLength="9.80" lengthAdjust="spacingAndGlyphs">20</text>
<line x1="339.60" y1="436.50" x2="343.20" y2="436.50" stroke="#111" stroke-width="1.35"/>
<text x="328.20" y="439.15" font-size="8.8" textLength="9.80" lengthAdjust="spacingAndGlyphs">30</text>
<line x1="339.60" y1="409.50" x2="343.20" y2="409.50" stroke="#111" stroke-width="1.35"/>
<text x="328.20" y="411.48" font-size="8.8" textLength="9.80" lengthAdjust="spacingAndGlyphs">40</text>
<text transform="translate(323.20,486.80) rotate(-90)" font-size="9.6" style="stroke-width:0.35px" textLength="45.70" lengthAdjust="spacingAndGlyphs">NK cells (x10<tspan font-size="6" dy="-3">4</tspan><tspan dy="3">)</tspan></text>
<rect x="348.15" y="513.00" width="14.30" height="6.70" fill="#C22036"/>
<rect x="361.95" y="498.00" width="14.40" height="21.70" fill="#04568A"/>
<rect x="382.55" y="504.20" width="14.30" height="15.50" fill="#C22036"/>
<rect x="396.35" y="436.10" width="13.90" height="83.60" fill="#04568A"/>
<line x1="355.50" y1="513.00" x2="355.50" y2="510.50" stroke="#111" stroke-width="1.35"/>
<line x1="352.30" y1="510.50" x2="358.10" y2="510.50" stroke="#111" stroke-width="1.35"/>
<line x1="369.50" y1="498.00" x2="369.50" y2="489.90" stroke="#111" stroke-width="1.35"/>
<line x1="366.20" y1="489.50" x2="373.10" y2="489.50" stroke="#111" stroke-width="1.35"/>
<line x1="389.50" y1="504.20" x2="389.50" y2="502.60" stroke="#111" stroke-width="1.35"/>
<line x1="386.90" y1="502.50" x2="392.70" y2="502.50" stroke="#111" stroke-width="1.35"/>
<line x1="403.50" y1="436.10" x2="403.50" y2="422.30" stroke="#111" stroke-width="1.35"/>
<line x1="401.00" y1="422.50" x2="406.90" y2="422.50" stroke="#111" stroke-width="1.35"/>
<line x1="339.60" y1="519.50" x2="431.50" y2="519.50" stroke="#111" stroke-width="1.2"/>
<line x1="362.50" y1="519.70" x2="362.50" y2="523.40" stroke="#111" stroke-width="1.35"/>
<line x1="396.50" y1="519.70" x2="396.50" y2="523.40" stroke="#111" stroke-width="1.35"/>
<text x="348.95" y="533.40" font-size="8.2" textLength="26.10" lengthAdjust="spacingAndGlyphs">Control</text>
<text x="382.45" y="533.40" font-size="8.2" textLength="27.40" lengthAdjust="spacingAndGlyphs">Infected</text>
<text style="stroke-width:0.35px" x="365.15" y="547.90" font-size="9.9" textLength="26.70" lengthAdjust="spacingAndGlyphs">HSCT</text>
<line x1="354.30" y1="418.50" x2="402.40" y2="418.50" stroke="#111" stroke-width="1.35"/>
<line x1="354.50" y1="418.70" x2="354.50" y2="423.40" stroke="#111" stroke-width="1.35"/>
<line x1="369.50" y1="418.70" x2="369.50" y2="423.40" stroke="#111" stroke-width="1.35"/>
<line x1="390.50" y1="418.70" x2="390.50" y2="423.40" stroke="#111" stroke-width="1.35"/>
<circle cx="351.05" cy="414.60" r="1.25" fill="#222"/>
<circle cx="354.95" cy="414.60" r="1.25" fill="#222"/>
<circle cx="358.85" cy="414.60" r="1.25" fill="#222"/>
<circle cx="365.65" cy="414.60" r="1.25" fill="#222"/>
<circle cx="369.45" cy="414.60" r="1.25" fill="#222"/>
<circle cx="373.25" cy="414.60" r="1.25" fill="#222"/>
<circle cx="386.95" cy="414.60" r="1.25" fill="#222"/>
<circle cx="390.90" cy="414.60" r="1.25" fill="#222"/>
<circle cx="394.85" cy="414.60" r="1.25" fill="#222"/>
<text x="8.50" y="575.20" font-size="12.79" font-weight="bold" style="fill:#000;stroke:#000;stroke-width:0.45px">J</text>
<text x="72.75" y="585.80" font-size="9.6" textLength="55.80" lengthAdjust="spacingAndGlyphs">Liver viral titer</text>
<line x1="52.30" y1="588.40" x2="52.30" y2="678.50" stroke="#111" stroke-width="1.5"/>
<line x1="50.60" y1="673.50" x2="52.30" y2="673.50" stroke="#111" stroke-width="0.7"/>
<line x1="50.60" y1="670.50" x2="52.30" y2="670.50" stroke="#111" stroke-width="0.7"/>
<line x1="50.60" y1="668.50" x2="52.30" y2="668.50" stroke="#111" stroke-width="0.7"/>
<line x1="50.60" y1="667.50" x2="52.30" y2="667.50" stroke="#111" stroke-width="0.7"/>
<line x1="50.60" y1="666.50" x2="52.30" y2="666.50" stroke="#111" stroke-width="0.7"/>
<line x1="50.60" y1="665.50" x2="52.30" y2="665.50" stroke="#111" stroke-width="0.7"/>
<line x1="50.60" y1="664.50" x2="52.30" y2="664.50" stroke="#111" stroke-width="0.7"/>
<line x1="50.60" y1="663.50" x2="52.30" y2="663.50" stroke="#111" stroke-width="0.7"/>
<line x1="50.60" y1="658.50" x2="52.30" y2="658.50" stroke="#111" stroke-width="0.7"/>
<line x1="50.60" y1="655.50" x2="52.30" y2="655.50" stroke="#111" stroke-width="0.7"/>
<line x1="50.60" y1="654.50" x2="52.30" y2="654.50" stroke="#111" stroke-width="0.7"/>
<line x1="50.60" y1="652.50" x2="52.30" y2="652.50" stroke="#111" stroke-width="0.7"/>
<line x1="50.60" y1="651.50" x2="52.30" y2="651.50" stroke="#111" stroke-width="0.7"/>
<line x1="50.60" y1="650.50" x2="52.30" y2="650.50" stroke="#111" stroke-width="0.7"/>
<line x1="50.60" y1="649.50" x2="52.30" y2="649.50" stroke="#111" stroke-width="0.7"/>
<line x1="50.60" y1="648.50" x2="52.30" y2="648.50" stroke="#111" stroke-width="0.7"/>
<line x1="50.60" y1="643.50" x2="52.30" y2="643.50" stroke="#111" stroke-width="0.7"/>
<line x1="50.60" y1="641.50" x2="52.30" y2="641.50" stroke="#111" stroke-width="0.7"/>
<line x1="50.60" y1="639.50" x2="52.30" y2="639.50" stroke="#111" stroke-width="0.7"/>
<line x1="50.60" y1="637.50" x2="52.30" y2="637.50" stroke="#111" stroke-width="0.7"/>
<line x1="50.60" y1="636.50" x2="52.30" y2="636.50" stroke="#111" stroke-width="0.7"/>
<line x1="50.60" y1="635.50" x2="52.30" y2="635.50" stroke="#111" stroke-width="0.7"/>
<line x1="50.60" y1="634.50" x2="52.30" y2="634.50" stroke="#111" stroke-width="0.7"/>
<line x1="50.60" y1="633.50" x2="52.30" y2="633.50" stroke="#111" stroke-width="0.7"/>
<line x1="50.60" y1="628.50" x2="52.30" y2="628.50" stroke="#111" stroke-width="0.7"/>
<line x1="50.60" y1="626.50" x2="52.30" y2="626.50" stroke="#111" stroke-width="0.7"/>
<line x1="50.60" y1="624.50" x2="52.30" y2="624.50" stroke="#111" stroke-width="0.7"/>
<line x1="50.60" y1="622.50" x2="52.30" y2="622.50" stroke="#111" stroke-width="0.7"/>
<line x1="50.60" y1="621.50" x2="52.30" y2="621.50" stroke="#111" stroke-width="0.7"/>
<line x1="50.60" y1="620.50" x2="52.30" y2="620.50" stroke="#111" stroke-width="0.7"/>
<line x1="50.60" y1="619.50" x2="52.30" y2="619.50" stroke="#111" stroke-width="0.7"/>
<line x1="50.60" y1="619.50" x2="52.30" y2="619.50" stroke="#111" stroke-width="0.7"/>
<line x1="50.60" y1="613.50" x2="52.30" y2="613.50" stroke="#111" stroke-width="0.7"/>
<line x1="50.60" y1="611.50" x2="52.30" y2="611.50" stroke="#111" stroke-width="0.7"/>
<line x1="50.60" y1="609.50" x2="52.30" y2="609.50" stroke="#111" stroke-width="0.7"/>
<line x1="50.60" y1="608.50" x2="52.30" y2="608.50" stroke="#111" stroke-width="0.7"/>
<line x1="50.60" y1="606.50" x2="52.30" y2="606.50" stroke="#111" stroke-width="0.7"/>
<line x1="50.60" y1="605.50" x2="52.30" y2="605.50" stroke="#111" stroke-width="0.7"/>
<line x1="50.60" y1="605.50" x2="52.30" y2="605.50" stroke="#111" stroke-width="0.7"/>
<line x1="50.60" y1="604.50" x2="52.30" y2="604.50" stroke="#111" stroke-width="0.7"/>
<line x1="50.60" y1="599.50" x2="52.30" y2="599.50" stroke="#111" stroke-width="0.7"/>
<line x1="50.60" y1="596.50" x2="52.30" y2="596.50" stroke="#111" stroke-width="0.7"/>
<line x1="50.60" y1="594.50" x2="52.30" y2="594.50" stroke="#111" stroke-width="0.7"/>
<line x1="50.60" y1="593.50" x2="52.30" y2="593.50" stroke="#111" stroke-width="0.7"/>
<line x1="50.60" y1="591.50" x2="52.30" y2="591.50" stroke="#111" stroke-width="0.7"/>
<line x1="50.60" y1="591.50" x2="52.30" y2="591.50" stroke="#111" stroke-width="0.7"/>
<line x1="50.60" y1="590.50" x2="52.30" y2="590.50" stroke="#111" stroke-width="0.7"/>
<line x1="50.60" y1="589.50" x2="52.30" y2="589.50" stroke="#111" stroke-width="0.7"/>
<line x1="48.80" y1="588.50" x2="52.30" y2="588.50" stroke="#111" stroke-width="1.35"/>
<line x1="48.80" y1="618.50" x2="52.30" y2="618.50" stroke="#111" stroke-width="1.35"/>
<line x1="48.80" y1="648.50" x2="52.30" y2="648.50" stroke="#111" stroke-width="1.35"/>
<line x1="48.80" y1="677.50" x2="52.30" y2="677.50" stroke="#111" stroke-width="1.35"/>
<text x="30.85" y="592.10" font-size="7.5" textLength="9.00" lengthAdjust="spacingAndGlyphs">10</text>
<text style="stroke-width:0.05px" x="40.65" y="589.60" font-size="4.2" textLength="5.00" lengthAdjust="spacingAndGlyphs">10</text>
<text x="33.75" y="621.83" font-size="7.5" textLength="8.70" lengthAdjust="spacingAndGlyphs">10</text>
<text style="stroke-width:0.05px" x="42.75" y="619.33" font-size="4.2" textLength="2.90" lengthAdjust="spacingAndGlyphs">8</text>
<text x="33.75" y="651.57" font-size="7.5" textLength="8.70" lengthAdjust="spacingAndGlyphs">10</text>
<text style="stroke-width:0.05px" x="42.75" y="649.07" font-size="4.2" textLength="2.90" lengthAdjust="spacingAndGlyphs">6</text>
<text x="33.75" y="681.30" font-size="7.5" textLength="8.70" lengthAdjust="spacingAndGlyphs">10</text>
<text style="stroke-width:0.05px" x="42.75" y="678.80" font-size="4.2" textLength="2.90" lengthAdjust="spacingAndGlyphs">4</text>
<rect x="64.05" y="639.50" width="19.00" height="38.50" fill="#C22036"/>
<rect x="82.55" y="643.90" width="18.50" height="34.10" fill="#04568A"/>
<rect x="100.55" y="639.50" width="18.90" height="38.50" fill="#04568A"/>
<rect x="118.95" y="617.60" width="19.00" height="60.40" fill="#3DB24E"/>
<line x1="73.50" y1="639.50" x2="73.50" y2="637.30" stroke="#111" stroke-width="1.35"/>
<line x1="69.20" y1="637.50" x2="77.90" y2="637.50" stroke="#111" stroke-width="1.35"/>
<line x1="91.50" y1="643.90" x2="91.50" y2="642.80" stroke="#111" stroke-width="1.35"/>
<line x1="88.00" y1="642.50" x2="95.60" y2="642.50" stroke="#111" stroke-width="1.35"/>
<line x1="110.50" y1="639.50" x2="110.50" y2="638.40" stroke="#111" stroke-width="1.35"/>
<line x1="106.20" y1="638.50" x2="113.80" y2="638.50" stroke="#111" stroke-width="1.35"/>
<line x1="128.50" y1="617.60" x2="128.50" y2="616.50" stroke="#111" stroke-width="1.35"/>
<line x1="124.30" y1="616.50" x2="132.60" y2="616.50" stroke="#111" stroke-width="1.35"/>
<line x1="52.30" y1="678.50" x2="159.60" y2="678.50" stroke="#111" stroke-width="1.2"/>
<line x1="73.50" y1="678.00" x2="73.50" y2="681.50" stroke="#111" stroke-width="1.35"/>
<line x1="91.50" y1="678.00" x2="91.50" y2="681.50" stroke="#111" stroke-width="1.35"/>
<line x1="109.50" y1="678.00" x2="109.50" y2="681.50" stroke="#111" stroke-width="1.35"/>
<line x1="128.50" y1="678.00" x2="128.50" y2="681.50" stroke="#111" stroke-width="1.35"/>
<line x1="73.30" y1="611.50" x2="128.90" y2="611.50" stroke="#111" stroke-width="1.35"/>
<line x1="73.50" y1="611.50" x2="73.50" y2="616.20" stroke="#111" stroke-width="1.35"/>
<line x1="89.50" y1="611.50" x2="89.50" y2="616.20" stroke="#111" stroke-width="1.35"/>
<line x1="106.50" y1="611.50" x2="106.50" y2="616.20" stroke="#111" stroke-width="1.35"/>
<circle cx="72.45" cy="607.10" r="1.25" fill="#222"/>
<circle cx="76.40" cy="607.10" r="1.25" fill="#222"/>
<circle cx="80.35" cy="607.10" r="1.25" fill="#222"/>
<circle cx="85.85" cy="607.10" r="1.25" fill="#222"/>
<circle cx="89.80" cy="607.10" r="1.25" fill="#222"/>
<circle cx="93.75" cy="607.10" r="1.25" fill="#222"/>
<circle cx="104.35" cy="607.10" r="1.25" fill="#222"/>
<circle cx="108.30" cy="607.10" r="1.25" fill="#222"/>
<circle cx="112.25" cy="607.10" r="1.25" fill="#222"/>
<text transform="translate(78.40,688.90) rotate(-45)" font-size="8.4" text-anchor="end">rIgG</text>
<text transform="translate(94.90,687.80) rotate(-45)" font-size="8.4" text-anchor="end">anti-Ly49G2</text>
<text transform="translate(114.50,687.80) rotate(-45)" font-size="8.4" text-anchor="end">anti-Ly49A</text>
<text transform="translate(132.70,687.00) rotate(-45)" font-size="8.4" text-anchor="end">anti-Ly49C/I</text>
<text transform="translate(14.60,669.50) rotate(-90)" font-size="8.5" style="stroke-width:0px" textLength="76.80" lengthAdjust="spacingAndGlyphs">IE1 gene copy #/100mg</text>
<text transform="translate(26.50,639.80) rotate(-90)" font-size="8.5" style="stroke-width:0px" textLength="19.20" lengthAdjust="spacingAndGlyphs">tissue</text>
<text x="172.80" y="590.20" font-size="12.79" font-weight="bold" style="fill:#000;stroke:#000;stroke-width:0.45px">K</text>
<line x1="203.50" y1="596.70" x2="203.50" y2="677.60" stroke="#111" stroke-width="1.2"/>
<line x1="199.40" y1="677.50" x2="203.20" y2="677.50" stroke="#111" stroke-width="1.35"/>
<text x="192.55" y="680.08" font-size="8.8" textLength="5.05" lengthAdjust="spacingAndGlyphs">0</text>
<line x1="199.40" y1="657.50" x2="203.20" y2="657.50" stroke="#111" stroke-width="1.35"/>
<text x="187.80" y="660.08" font-size="8.8" textLength="9.80" lengthAdjust="spacingAndGlyphs">10</text>
<line x1="199.40" y1="637.50" x2="203.20" y2="637.50" stroke="#111" stroke-width="1.35"/>
<text x="187.80" y="640.08" font-size="8.8" textLength="9.80" lengthAdjust="spacingAndGlyphs">20</text>
<line x1="199.40" y1="617.50" x2="203.20" y2="617.50" stroke="#111" stroke-width="1.35"/>
<text x="187.80" y="620.08" font-size="8.8" textLength="9.80" lengthAdjust="spacingAndGlyphs">30</text>
<line x1="199.40" y1="597.50" x2="203.20" y2="597.50" stroke="#111" stroke-width="1.35"/>
<text x="187.80" y="600.08" font-size="8.8" textLength="9.80" lengthAdjust="spacingAndGlyphs">40</text>
<text transform="translate(183.00,675.60) rotate(-90)" font-size="10.0" style="stroke-width:0.35px" textLength="76.70" lengthAdjust="spacingAndGlyphs">% CD3+ of lymphocytes</text>
<rect x="213.05" y="616.20" width="40.00" height="60.80" fill="#C22036"/>
<rect x="272.85" y="658.80" width="40.50" height="18.20" fill="#04568A"/>
<line x1="233.50" y1="616.20" x2="233.50" y2="614.50" stroke="#111" stroke-width="1.35"/>
<line x1="223.90" y1="614.50" x2="242.70" y2="614.50" stroke="#111" stroke-width="1.35"/>
<line x1="293.50" y1="658.80" x2="293.50" y2="657.30" stroke="#111" stroke-width="1.35"/>
<line x1="283.80" y1="657.50" x2="302.50" y2="657.50" stroke="#111" stroke-width="1.35"/>
<line x1="199.40" y1="677.50" x2="325.00" y2="677.50" stroke="#111" stroke-width="1.2"/>
<line x1="233.50" y1="677.00" x2="233.50" y2="680.40" stroke="#111" stroke-width="1.35"/>
<line x1="293.50" y1="677.00" x2="293.50" y2="680.40" stroke="#111" stroke-width="1.35"/>
<text x="218.95" y="689.80" font-size="8.1" textLength="28.80" lengthAdjust="spacingAndGlyphs">Resting</text>
<text x="280.95" y="689.80" font-size="8.1" textLength="23.80" lengthAdjust="spacingAndGlyphs">HSCT</text>
<line x1="233.10" y1="609.50" x2="291.00" y2="609.50" stroke="#111" stroke-width="1.35"/>
<circle cx="258.55" cy="604.50" r="1.25" fill="#222"/>
<circle cx="262.60" cy="604.50" r="1.25" fill="#222"/>
<circle cx="266.65" cy="604.50" r="1.25" fill="#222"/>
<text x="339.30" y="589.70" font-size="12.65" font-weight="bold" style="fill:#000;stroke:#000;stroke-width:0.45px">L</text>
<line x1="382.50" y1="596.60" x2="382.50" y2="677.80" stroke="#111" stroke-width="1.2"/>
<line x1="378.40" y1="677.50" x2="382.20" y2="677.50" stroke="#111" stroke-width="1.35"/>
<line x1="378.40" y1="656.50" x2="382.20" y2="656.50" stroke="#111" stroke-width="1.35"/>
<line x1="378.40" y1="637.50" x2="382.20" y2="637.50" stroke="#111" stroke-width="1.35"/>
<line x1="378.40" y1="617.50" x2="382.20" y2="617.50" stroke="#111" stroke-width="1.35"/>
<line x1="378.40" y1="596.50" x2="382.20" y2="596.50" stroke="#111" stroke-width="1.35"/>
<text x="370.05" y="679.70" font-size="8.4" textLength="4.90" lengthAdjust="spacingAndGlyphs">0</text>
<text x="351.45" y="660.00" font-size="8.4" textLength="18.20" lengthAdjust="spacingAndGlyphs">5x10</text>
<text style="stroke-width:0.05px" x="369.45" y="657.50" font-size="4.4" textLength="5.60" lengthAdjust="spacingAndGlyphs">06</text>
<text x="351.45" y="640.80" font-size="8.4" textLength="18.20" lengthAdjust="spacingAndGlyphs">1x10</text>
<text style="stroke-width:0.05px" x="369.45" y="638.30" font-size="4.4" textLength="5.60" lengthAdjust="spacingAndGlyphs">07</text>
<text x="351.45" y="620.80" font-size="8.4" textLength="18.20" lengthAdjust="spacingAndGlyphs">2x10</text>
<text style="stroke-width:0.05px" x="369.45" y="618.30" font-size="4.4" textLength="5.60" lengthAdjust="spacingAndGlyphs">07</text>
<text x="351.45" y="600.00" font-size="8.4" textLength="18.20" lengthAdjust="spacingAndGlyphs">2x10</text>
<text style="stroke-width:0.05px" x="369.45" y="597.50" font-size="4.4" textLength="5.60" lengthAdjust="spacingAndGlyphs">07</text>
<text transform="translate(347.00,661.60) rotate(-90)" font-size="10.0" style="stroke-width:0.35px" textLength="48.60" lengthAdjust="spacingAndGlyphs"># CD3+ T cells</text>
<rect x="391.55" y="622.90" width="40.30" height="54.20" fill="#C22036"/>
<rect x="451.65" y="673.70" width="40.30" height="3.40" fill="#04568A"/>
<line x1="411.50" y1="622.90" x2="411.50" y2="616.50" stroke="#111" stroke-width="1.35"/>
<line x1="402.40" y1="616.50" x2="421.10" y2="616.50" stroke="#111" stroke-width="1.35"/>
<line x1="471.50" y1="673.70" x2="471.50" y2="672.10" stroke="#111" stroke-width="1.35"/>
<line x1="462.90" y1="672.50" x2="481.20" y2="672.50" stroke="#111" stroke-width="1.35"/>
<line x1="378.40" y1="677.50" x2="503.70" y2="677.50" stroke="#111" stroke-width="1.2"/>
<line x1="411.50" y1="677.10" x2="411.50" y2="680.00" stroke="#111" stroke-width="1.35"/>
<line x1="471.50" y1="677.10" x2="471.50" y2="680.00" stroke="#111" stroke-width="1.35"/>
<text x="397.85" y="689.80" font-size="8.1" textLength="28.30" lengthAdjust="spacingAndGlyphs">Resting</text>
<text x="460.05" y="689.80" font-size="8.1" textLength="23.40" lengthAdjust="spacingAndGlyphs">HSCT</text>
<line x1="412.00" y1="613.50" x2="469.60" y2="613.50" stroke="#111" stroke-width="1.35"/>
<circle cx="437.55" cy="608.00" r="1.25" fill="#222"/>
<circle cx="441.40" cy="608.00" r="1.25" fill="#222"/>
<circle cx="445.25" cy="608.00" r="1.25" fill="#222"/>
</svg>
</body></html>
